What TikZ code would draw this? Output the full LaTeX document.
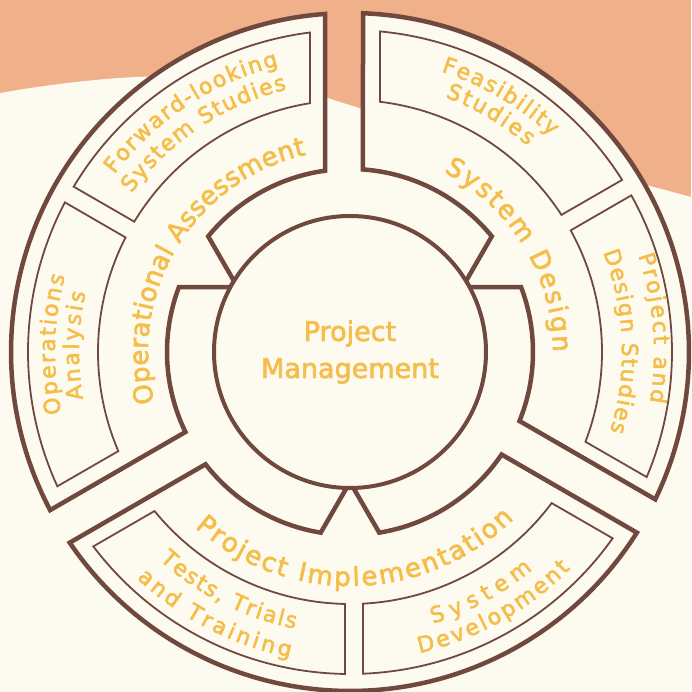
\documentclass[tikz,border=0pt]{standalone}
\usepackage{fontspec}
\setmainfont{DejaVu Sans}[FakeBold=2.5]
\usetikzlibrary{decorations.text}

\definecolor{salmon}{RGB}{240,176,138}
\definecolor{cream}{RGB}{253,251,240}
\definecolor{brownline}{RGB}{112,72,62}
\definecolor{gold}{RGB}{245,190,76}

\newcommand{\bigfont}{\fontsize{26}{30}\selectfont}
\newcommand{\smallfont}{\fontsize{22}{26}\selectfont}

\begin{document}
\begin{tikzpicture}[x=1pt, y=1pt,
    sector/.style={draw=brownline, fill=cream, line width=4.5pt},
    subbox/.style={draw=brownline, line width=1.8pt},
    bigarc/.style={decorate, decoration={text along path, text align=fit to path,
        text color=gold, text={|\bigfont|#1}}},
    smallarc/.style={decorate, decoration={text along path, text align=fit to path,
        text color=gold, text={|\smallfont|#1}}}]
	\useasboundingbox (-350,-340) rectangle (341,352);
	\fill[salmon] (-350,-340) rectangle (341,352);
	\fill[cream] (-350,259) .. controls (-200,285) and (-100,280) .. (-10,250)
	    .. controls (100,215) and (250,180) .. (341,155) -- (341,-340) -- (-350,-340) -- cycle;

	\foreach \s in {90,210,330} {
		\pgfmathsetmacro{\ctr}{\s+60}
		\pgfmathsetmacro{\fin}{\s+120}
		\draw[sector] ({\s+4.23}:339) arc[start angle=\s+4.23, end angle=\fin-2.2, radius=339]
		    -- ({\fin-4.07}:183) arc[start angle=\fin-4.07, end angle=\ctr+9.2, radius=183]
		    -- ({\ctr+1.45}:136) arc[start angle=\ctr+1.45, end angle=\ctr-1.45, radius=136]
		    -- ({\ctr-9.2}:183) arc[start angle=\ctr-9.2, end angle=\s+7.85, radius=183]
		    -- cycle;
		\draw[subbox] ({\s+9.13}:252) arc[start angle=\s+9.13, end angle=\ctr-1.14, radius=252]
		    -- ({\ctr-0.89}:322) arc[start angle=\ctr-0.89, end angle=\s+7.14, radius=322] -- cycle;
		\draw[subbox] ({\ctr+2.96}:252) arc[start angle=\ctr+2.96, end angle=\fin-6.84, radius=252]
		    -- ({\fin-5.35}:322) arc[start angle=\fin-5.35, end angle=\ctr+2.31, radius=322] -- cycle;
	}

	\node[circle, draw=brownline, fill=cream, line width=4pt, minimum size=272pt,
	      text=gold, align=center, font=\fontsize{27}{37}\selectfont] (pm) at (0,0) {Project\\Management};

	\path[bigarc=Operational Assessment] (194.5:202) arc[start angle=194.5, end angle=102.5, radius=202];
	\path[bigarc=System Design] (62.5:203) arc[start angle=62.5, end angle=0, radius=203];
	\path[bigarc=Project Implementation] (228.5:234) arc[start angle=228.5, end angle=314.5, radius=234];

	\path[smallarc=Forward-looking] (143:295) arc[start angle=143, end angle=104, radius=295];
	\path[smallarc=System Studies] (144:270) arc[start angle=144, end angle=103.5, radius=270];
	\path[smallarc=Operations] (192:295) arc[start angle=192, end angle=165, radius=295];
	\path[smallarc=Analysis] (190:271) arc[start angle=190, end angle=167.3, radius=271];
	\path[smallarc=Feasibility] (72:295) arc[start angle=72, end angle=47, radius=295];
	\path[smallarc=Studies] (69.5:272) arc[start angle=69.5, end angle=49.2, radius=272];
	\path[smallarc=Project and] (18.5:304) arc[start angle=18.5, end angle=-9.5, radius=304];
	\path[smallarc=Design Studies] (21.5:272) arc[start angle=21.5, end angle=-17, radius=272];
	\path[smallarc={Tests, Trials}] (227.5:282) arc[start angle=227.5, end angle=258.8, radius=282];
	\path[smallarc=and Training] (226.7:311) arc[start angle=226.7, end angle=258.9, radius=311];
	\path[smallarc=System] (287:284) arc[start angle=287, end angle=310, radius=284];
	\path[smallarc=Development] (283:309) arc[start angle=283, end angle=315.5, radius=309];
\end{tikzpicture}
\end{document}
